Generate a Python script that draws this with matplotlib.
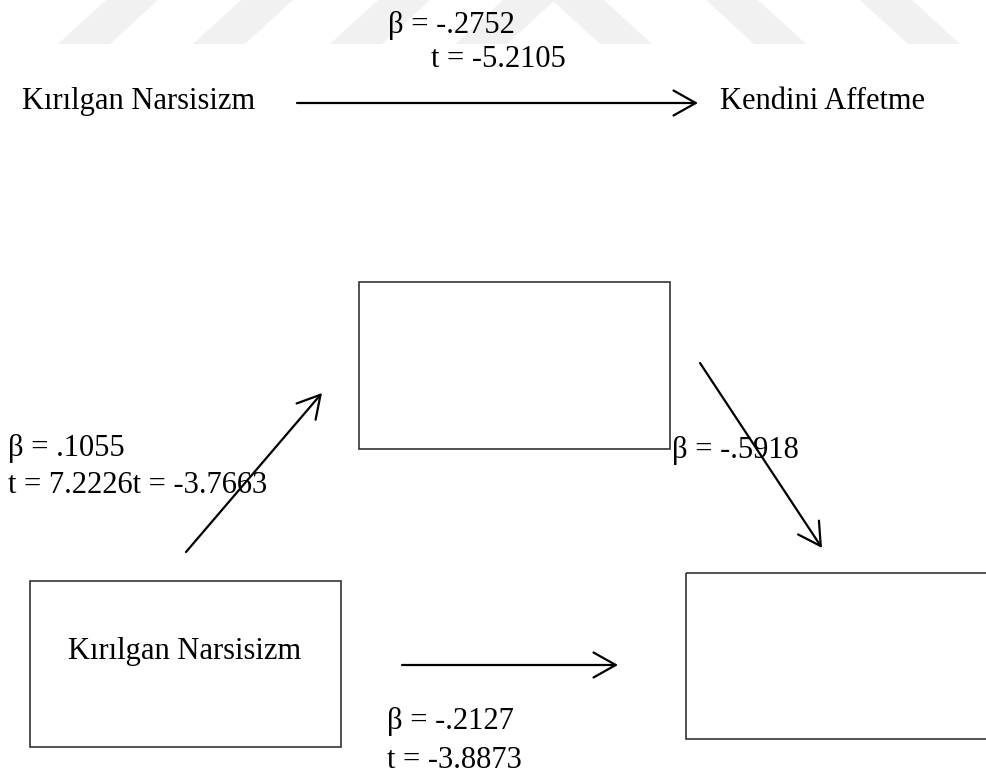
import matplotlib.pyplot as plt
from matplotlib.patches import Rectangle, Polygon, FancyArrowPatch

# === DATA ===
iv_label = "Kırılgan Narsisizm"
dv_label = "Kendini Affetme"

total_beta = -.2752
total_t = -5.2105
a_beta = .1055
a_t = 7.2226
b_beta = -.5918
b_t = -3.7663
c_beta = -.2127
c_t = -3.8873


def fmt_beta(v):
    s = "%.4f" % v
    return s.replace("0.", ".", 1)


# === FIGURE (pixel coordinates, y down) ===
W, H = 986, 778
fig = plt.figure(figsize=(W / 100, H / 100), dpi=100)
ax = fig.add_axes([0, 0, 1, 1])
ax.set_xlim(0, W)
ax.set_ylim(H, 0)
ax.axis('off')

plt.rcParams['font.family'] = ['Liberation Serif', 'DejaVu Serif']
FS = 22

# faint watermark stripes at top
for b in [58, 193, 330, 455]:
    ax.add_patch(Polygon([(b, 44), (b + 52, 44), (b + 100, 0), (b + 48, 0)],
                         closed=True, facecolor='#f1f1f1', edgecolor='none', zorder=0))
for t in [552, 706, 860]:
    ax.add_patch(Polygon([(t, 0), (t + 52, 0), (t + 100, 44), (t + 48, 44)],
                         closed=True, facecolor='#f1f1f1', edgecolor='none', zorder=0))


def arrow(x0, y0, x1, y1):
    ax.add_patch(FancyArrowPatch((x0, y0), (x1, y1),
                                 arrowstyle='->,head_length=0.8,head_width=0.45',
                                 mutation_scale=20, lw=1.6, color='black',
                                 shrinkA=0, shrinkB=0, zorder=3))


def box(x0, y0, x1, y1):
    ax.add_patch(Rectangle((x0, y0), x1 - x0, y1 - y0, fill=False,
                           edgecolor='#333333', lw=1.2, zorder=2))


# === TOP: total effect ===
ax.text(388, 25, "β = " + fmt_beta(total_beta), fontsize=FS, va='center', ha='left')
ax.text(431, 59, "t = %.4f" % total_t, fontsize=FS, va='center', ha='left')
ax.text(22, 101, iv_label, fontsize=FS, va='center', ha='left')
arrow(297, 103, 698, 103)
ax.text(720, 101, dv_label, fontsize=FS, va='center', ha='left')

# === BOTTOM: mediation model ===
box(359, 282, 670, 449)
box(30, 581, 341, 747)
box(686, 573, 1000, 739)
ax.text(185, 652, iv_label, fontsize=FS, va='center', ha='center')

arrow(186, 552, 322, 393)
ax.text(8, 448, "β = " + fmt_beta(a_beta), fontsize=FS, va='center', ha='left')
ax.text(8, 485, "t = %.4f" % a_t + "t = %.4f" % b_t, fontsize=FS, va='center', ha='left')

arrow(700, 363, 822, 548)
ax.text(672, 450, "β = " + fmt_beta(b_beta), fontsize=FS, va='center', ha='left')

arrow(402, 665, 618, 665)
ax.text(387, 721, "β = " + fmt_beta(c_beta), fontsize=FS, va='center', ha='left')
ax.text(387, 760, "t = %.4f" % c_t, fontsize=FS, va='center', ha='left')

plt.savefig("out.png", dpi=100)
